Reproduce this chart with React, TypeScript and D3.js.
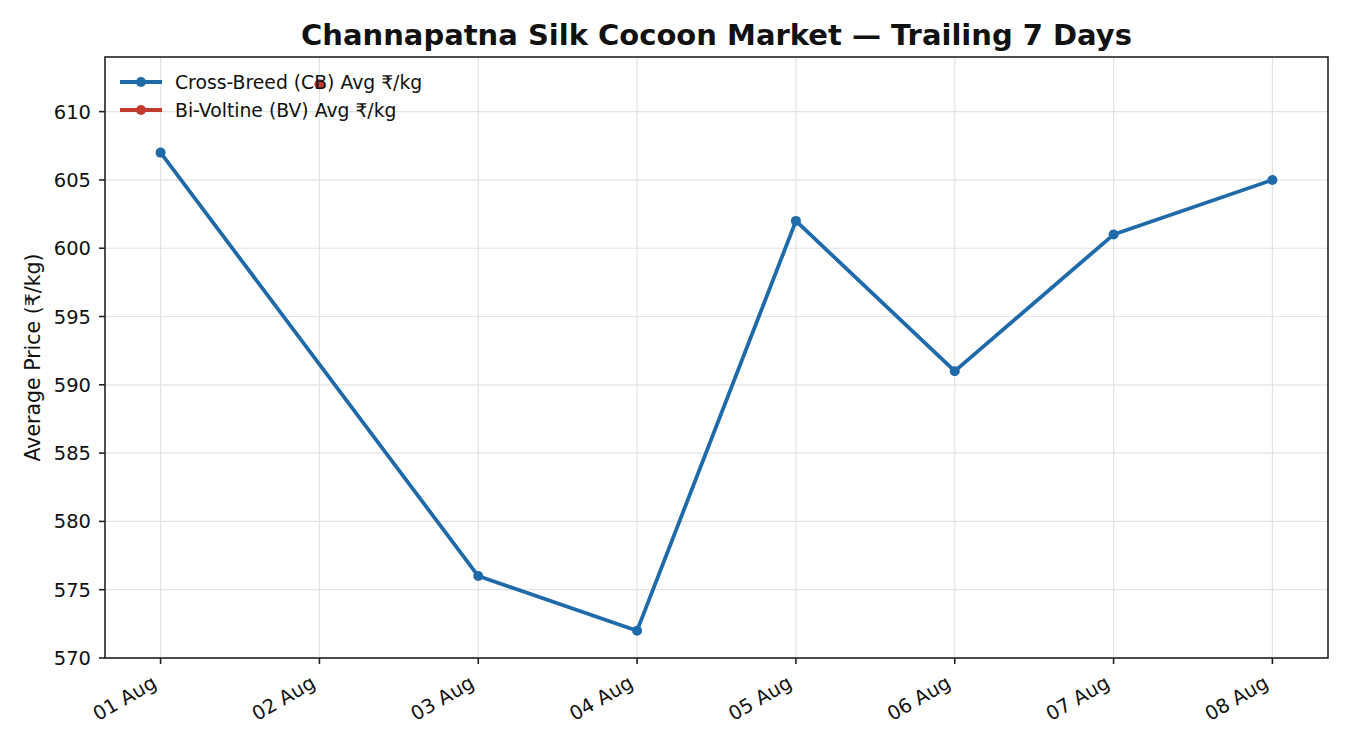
import React, { useEffect, useRef } from 'react';
import * as d3 from 'd3';

const dates = ['01 Aug', '02 Aug', '03 Aug', '04 Aug', '05 Aug', '06 Aug', '07 Aug', '08 Aug'];
const cbDates = ['01 Aug', '03 Aug', '04 Aug', '05 Aug', '06 Aug', '07 Aug', '08 Aug'];
const cbValues = [607, 576, 572, 602, 591, 601, 605];
const bvDates = ['02 Aug'];
const bvValues = [612];
const yTicks = [570, 575, 580, 585, 590, 595, 600, 605, 610];

const W = 1350;
const H = 750;
const FONT = '"DejaVu Sans", sans-serif';
const CB_COLOR = '#1f6aa9';
const BV_COLOR = '#c23b2e';

const App: React.FC = () => {
  const svgRef = useRef<SVGSVGElement>(null);

  useEffect(() => {
    if (!svgRef.current) return;
    const svg = d3.select(svgRef.current);
    svg.selectAll('*').remove();

    const m = { left: 105, right: 1328, top: 57, bottom: 658 };

    const x = d3.scaleLinear()
      .domain([-0.35, dates.length - 1 + 0.35])
      .range([m.left, m.right]);
    const y = d3.scaleLinear().domain([570, 614]).range([m.bottom, m.top]);
    const xi = (d: string) => x(dates.indexOf(d));

    const g = svg.append('g');

    // grid
    g.selectAll('.gx').data(dates).enter().append('line')
      .attr('x1', d => xi(d)).attr('x2', d => xi(d))
      .attr('y1', m.top).attr('y2', m.bottom)
      .attr('stroke', '#e3e3e3').attr('stroke-width', 1.2);
    g.selectAll('.gy').data(yTicks).enter().append('line')
      .attr('x1', m.left).attr('x2', m.right)
      .attr('y1', d => y(d)).attr('y2', d => y(d))
      .attr('stroke', '#e3e3e3').attr('stroke-width', 1.2);

    // CB line
    const cb = cbDates.map((d, i) => ({ d, v: cbValues[i] }));
    const line = d3.line<{ d: string; v: number }>().x(p => xi(p.d)).y(p => y(p.v));
    g.append('path').datum(cb)
      .attr('d', line)
      .attr('fill', 'none')
      .attr('stroke', CB_COLOR)
      .attr('stroke-width', 3.8)
      .attr('stroke-linejoin', 'round');
    g.selectAll('.cbp').data(cb).enter().append('circle')
      .attr('cx', p => xi(p.d)).attr('cy', p => y(p.v))
      .attr('r', 5).attr('fill', CB_COLOR);

    // BV
    const bv = bvDates.map((d, i) => ({ d, v: bvValues[i] }));
    g.append('path').datum(bv)
      .attr('d', line)
      .attr('fill', 'none')
      .attr('stroke', BV_COLOR)
      .attr('stroke-width', 3.8);
    g.selectAll('.bvp').data(bv).enter().append('circle')
      .attr('cx', p => xi(p.d)).attr('cy', p => y(p.v))
      .attr('r', 5).attr('fill', BV_COLOR);

    // frame
    g.append('rect')
      .attr('x', m.left).attr('y', m.top)
      .attr('width', m.right - m.left).attr('height', m.bottom - m.top)
      .attr('fill', 'none').attr('stroke', '#222').attr('stroke-width', 1.6);

    // y ticks
    const yt = g.selectAll('.yt').data(yTicks).enter().append('g')
      .attr('transform', d => `translate(${m.left},${y(d)})`);
    yt.append('line').attr('x1', -6).attr('x2', 0).attr('stroke', '#222').attr('stroke-width', 1.6);
    yt.append('text')
      .attr('x', -14).attr('dy', '0.36em')
      .attr('text-anchor', 'end')
      .style('font-family', FONT).style('font-size', '19.5px').attr('fill', '#111')
      .text(d => d);

    // x ticks
    const xt = g.selectAll('.xt').data(dates).enter().append('g')
      .attr('transform', d => `translate(${xi(d)},${m.bottom})`);
    xt.append('line').attr('y1', 0).attr('y2', 6).attr('stroke', '#222').attr('stroke-width', 1.6);
    xt.append('text')
      .attr('transform', 'translate(-10,16) rotate(-30)')
      .attr('text-anchor', 'end')
      .attr('dy', '0.75em')
      .style('font-family', FONT).style('font-size', '19.5px').attr('fill', '#111')
      .text(d => d);

    // y label
    svg.append('text')
      .attr('transform', `translate(40,${(m.top + m.bottom) / 2}) rotate(-90)`)
      .attr('text-anchor', 'middle')
      .style('font-family', FONT).style('font-size', '20.5px').attr('fill', '#111')
      .text('Average Price (₹/kg)');

    // title
    svg.append('text')
      .attr('x', (m.left + m.right) / 2).attr('y', 45)
      .attr('text-anchor', 'middle')
      .style('font-family', FONT).style('font-size', '29px').style('font-weight', 'bold').attr('fill', '#111')
      .text('Channapatna Silk Cocoon Market — Trailing 7 Days');

    // legend
    const legend = [
      { label: 'Cross-Breed (CB) Avg ₹/kg', color: CB_COLOR },
      { label: 'Bi-Voltine (BV) Avg ₹/kg', color: BV_COLOR },
    ];
    const lg = svg.selectAll('.lg').data(legend).enter().append('g')
      .attr('transform', (_d, i) => `translate(120,${82 + i * 28})`);
    lg.append('line').attr('x1', 0).attr('x2', 42)
      .attr('stroke', d => d.color).attr('stroke-width', 3.8);
    lg.append('circle').attr('cx', 21).attr('r', 5).attr('fill', d => d.color);
    lg.append('text')
      .attr('x', 55).attr('dy', '0.35em')
      .style('font-family', FONT).style('font-size', '18.8px').attr('fill', '#111')
      .text(d => d.label);
  }, []);

  return (
    <svg
      ref={svgRef}
      width={W}
      height={H}
      style={{ position: 'absolute', top: 0, left: 0, background: '#fff' }}
    />
  );
};

export default App;
